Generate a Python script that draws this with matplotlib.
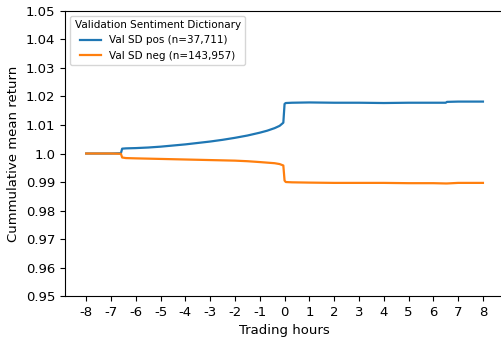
import numpy as np
import matplotlib.pyplot as plt

# horas de negociacao relativas ao evento
horas = [-8.0, -7.5, -7.0, -6.6, -6.55, -6.4, -6.0, -5.5, -5.0, -4.5, -4.0, -3.5,
         -3.0, -2.5, -2.0, -1.5, -1.0, -0.7, -0.4, -0.2, -0.05, 0.0, 0.05, 0.3,
         1.0, 2.0, 3.0, 4.0, 5.0, 6.0, 6.5, 6.55, 7.0, 7.5, 8.0]

ret_pos = [1.0000, 1.0000, 1.0000, 1.0001, 1.0017, 1.0018, 1.0019, 1.0021, 1.0024, 1.0028,
           1.0032, 1.0037, 1.0042, 1.0048, 1.0055, 1.0063, 1.0073, 1.0080, 1.0089, 1.0097,
           1.0108, 1.0174, 1.0177, 1.0178, 1.0179, 1.0178, 1.0178, 1.0177, 1.0178, 1.0178,
           1.0178, 1.0181, 1.0182, 1.0182, 1.0182]

ret_neg = [1.0000, 1.0000, 1.0000, 0.9999, 0.9986, 0.9984, 0.9983, 0.9982, 0.9981, 0.9980,
           0.9979, 0.9978, 0.9977, 0.9976, 0.9975, 0.9973, 0.9970, 0.9968, 0.9966, 0.9963,
           0.9958, 0.9905, 0.9900, 0.9899, 0.9898, 0.9897, 0.9897, 0.9897, 0.9896, 0.9896,
           0.9895, 0.9895, 0.9897, 0.9897, 0.9897]

rotulos = ["Val SD pos (n=37,711)", "Val SD neg (n=143,957)"]

xticks = list(range(-8, 9))
xtick_labels = [str(t) for t in xticks]
yticks = [0.95, 0.96, 0.97, 0.98, 0.99, 1.0, 1.01, 1.02, 1.03, 1.04, 1.05]
ytick_labels = [str(t) for t in yticks]

fig = plt.figure(figsize=(5.01, 3.40), dpi=100)
ax = fig.add_axes([0.130, 0.129, 0.876, 0.839])

ax.plot(horas, ret_pos, color="tab:blue", linewidth=1.6, label=rotulos[0])
ax.plot(horas, ret_neg, color="tab:orange", linewidth=1.6, label=rotulos[1])

ax.set_xlim(-8.85, 8.85)
ax.set_ylim(0.95, 1.05)
ax.set_xticks(xticks)
ax.set_xticklabels(xtick_labels, fontsize=9.5)
ax.set_yticks(yticks)
ax.set_yticklabels(ytick_labels, fontsize=9.5)
ax.set_xlabel("Trading hours", fontsize=9.5)
ax.set_ylabel("Cummulative mean return", fontsize=9.5)

leg = ax.legend(title="Validation Sentiment Dictionary", loc="upper left",
                fontsize=7.5, title_fontsize=7.5)

fig.savefig("out.png", dpi=100)
